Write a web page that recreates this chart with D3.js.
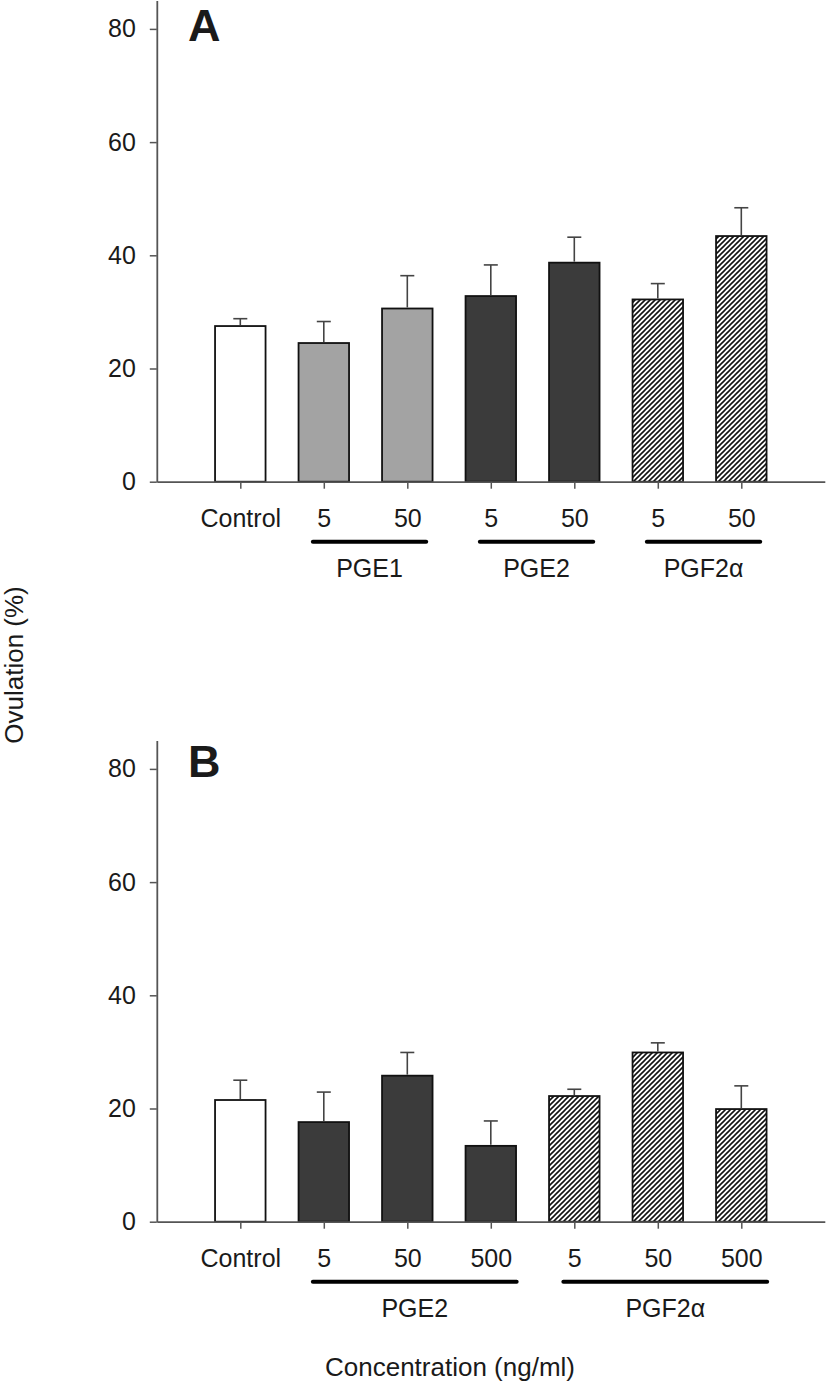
<!DOCTYPE html>
<html>
<head>
<meta charset="utf-8">
<script src="https://cdn.jsdelivr.net/npm/d3@7/dist/d3.min.js"></script>
<style>
  html, body { margin: 0; padding: 0; background: #fff; }
  svg { display: block; }
  text { font-family: "Liberation Sans", Arial, sans-serif; fill: #1a1a1a; }
</style>
</head>
<body>
<svg id="chart" width="827" height="1389"></svg>
<script>
// ---------- data ----------
const yTicks = [0, 20, 40, 60, 80];

const catsA   = ["Control", "5", "50", "5", "50", "5", "50"];
const valsA   = [27.5, 24.5, 30.6, 32.8, 38.7, 32.2, 43.4];
const errA    = [1.3, 3.8, 5.8, 5.5, 4.5, 2.8, 5.0];
const kindA   = ["control", "pge1", "pge1", "pge2", "pge2", "pgf", "pgf"];
const groupsA = [
  { name: "PGE1", first: 1, last: 2 },
  { name: "PGE2", first: 3, last: 4 },
  { name: "PGF2α", first: 5, last: 6 }
];

const catsB   = ["Control", "5", "50", "500", "5", "50", "500"];
const valsB   = [21.5, 17.6, 25.8, 13.4, 22.2, 29.9, 19.9];
const errB    = [3.5, 5.3, 4.1, 4.4, 1.2, 1.7, 4.1];
const kindB   = ["control", "pge2", "pge2", "pge2", "pgf", "pgf", "pgf"];
const groupsB = [
  { name: "PGE2", first: 1, last: 3 },
  { name: "PGF2α", first: 4, last: 6 }
];

const yLabel = "Ovulation (%)";
const xLabel = "Concentration (ng/ml)";

// ---------- drawing ----------
const svg = d3.select("#chart");
const defs = svg.append("defs");
const pat = defs.append("pattern")
  .attr("id", "hatch")
  .attr("patternUnits", "userSpaceOnUse")
  .attr("width", 5).attr("height", 5);
pat.append("rect").attr("width", 5).attr("height", 5).attr("fill", "#fff");
pat.append("path")
  .attr("d", "M-1,1 l2,-2 M0,5 l5,-5 M4,6 l2,-2")
  .attr("stroke", "#111").attr("stroke-width", 1.6);

const fills = { control: "#ffffff", pge1: "#a3a3a3", pge2: "#3b3b3b", pgf: "url(#hatch)" };

const x = d3.scaleLinear().domain([0, 8]).range([156.8, 824.8]);
const barW = 50.5;

function panel(cfg) {
  const { top, bottom, cats, vals, errs, kinds, groups, letter, letterY, letterSize } = cfg;
  const y = d3.scaleLinear().domain([0, 85]).range([bottom, top]);
  const g = svg.append("g");

  // bars
  const idx = d3.range(cats.length);
  g.selectAll("rect.bar").data(idx).join("rect")
    .attr("class", "bar")
    .attr("x", i => x(i + 1) - barW / 2)
    .attr("width", barW)
    .attr("y", i => y(vals[i]))
    .attr("height", i => y(0) - y(vals[i]))
    .attr("fill", i => fills[kinds[i]])
    .attr("stroke", "#111")
    .attr("stroke-width", 1.8);

  // error bars (upper only)
  g.selectAll("line.err").data(idx).join("line")
    .attr("x1", i => x(i + 1)).attr("x2", i => x(i + 1))
    .attr("y1", i => y(vals[i]) - 1).attr("y2", i => y(vals[i] + errs[i]))
    .attr("stroke", "#444").attr("stroke-width", 1.6);
  g.selectAll("line.cap").data(idx).join("line")
    .attr("x1", i => x(i + 1) - 7).attr("x2", i => x(i + 1) + 7)
    .attr("y1", i => y(vals[i] + errs[i])).attr("y2", i => y(vals[i] + errs[i]))
    .attr("stroke", "#444").attr("stroke-width", 1.6);

  // y axis
  const ya = g.append("g").attr("transform", `translate(${x(0)},0)`)
    .call(d3.axisLeft(y).tickValues(yTicks).tickSize(7).tickPadding(14).tickSizeOuter(0));
  ya.select(".domain").attr("stroke", "#555").attr("stroke-width", 1.8);
  ya.selectAll(".tick line").attr("stroke", "#555").attr("stroke-width", 1.5);
  ya.selectAll(".tick text").attr("font-size", 25).attr("fill", "#1a1a1a")
    .style("font-family", "Liberation Sans, Arial, sans-serif");

  // x axis
  const xa = g.append("g").attr("transform", `translate(0,${y(0)})`)
    .call(d3.axisBottom(x).tickValues(d3.range(1, cats.length + 1))
      .tickFormat(d => cats[d - 1]).tickSize(7).tickSizeOuter(0));
  xa.select(".domain").attr("stroke", "#555").attr("stroke-width", 1.8);
  xa.selectAll(".tick line").attr("stroke", "#555").attr("stroke-width", 1.5);
  const tickTexts = xa.selectAll(".tick text").attr("font-size", 25).attr("fill", "#1a1a1a")
    .attr("y", 45).attr("dy", 0)
    .style("font-family", "Liberation Sans, Arial, sans-serif");

  // group underlines + labels
  const nodes = tickTexts.nodes();
  groups.forEach(gr => {
    const bbFirst = nodes[gr.first].getBBox();
    const bbLast = nodes[gr.last].getBBox();
    const x1 = x(gr.first + 1) + bbFirst.x - 4;
    const x2 = x(gr.last + 1) + bbLast.x + bbLast.width + 5;
    g.append("line")
      .attr("x1", x1).attr("x2", x2)
      .attr("y1", y(0) + 60).attr("y2", y(0) + 60)
      .attr("stroke", "#000").attr("stroke-width", 4).attr("stroke-linecap", "round");
    g.append("text")
      .attr("x", (x1 + x2) / 2).attr("y", y(0) + 95)
      .attr("text-anchor", "middle").attr("font-size", 25)
      .text(gr.name);
  });

  // panel letter
  g.append("text")
    .attr("x", 188).attr("y", top + letterY)
    .attr("font-size", letterSize).attr("font-weight", "bold").attr("fill", "#000")
    .text(letter);
}

panel({ top: 0.6, bottom: 481.7, cats: catsA, vals: valsA, errs: errA, kinds: kindA, groups: groupsA, letter: "A", letterY: 40.5, letterSize: 45 });
panel({ top: 740.6, bottom: 1221.7, cats: catsB, vals: valsB, errs: errB, kinds: kindB, groups: groupsB, letter: "B", letterY: 36.5, letterSize: 45 });

// axis titles
svg.append("text")
  .attr("transform", "translate(23,665) rotate(-90)")
  .attr("text-anchor", "middle").attr("font-size", 26)
  .text(yLabel);
svg.append("text")
  .attr("x", 450).attr("y", 1376)
  .attr("text-anchor", "middle").attr("font-size", 26)
  .text(xLabel);
</script>
</body>
</html>
